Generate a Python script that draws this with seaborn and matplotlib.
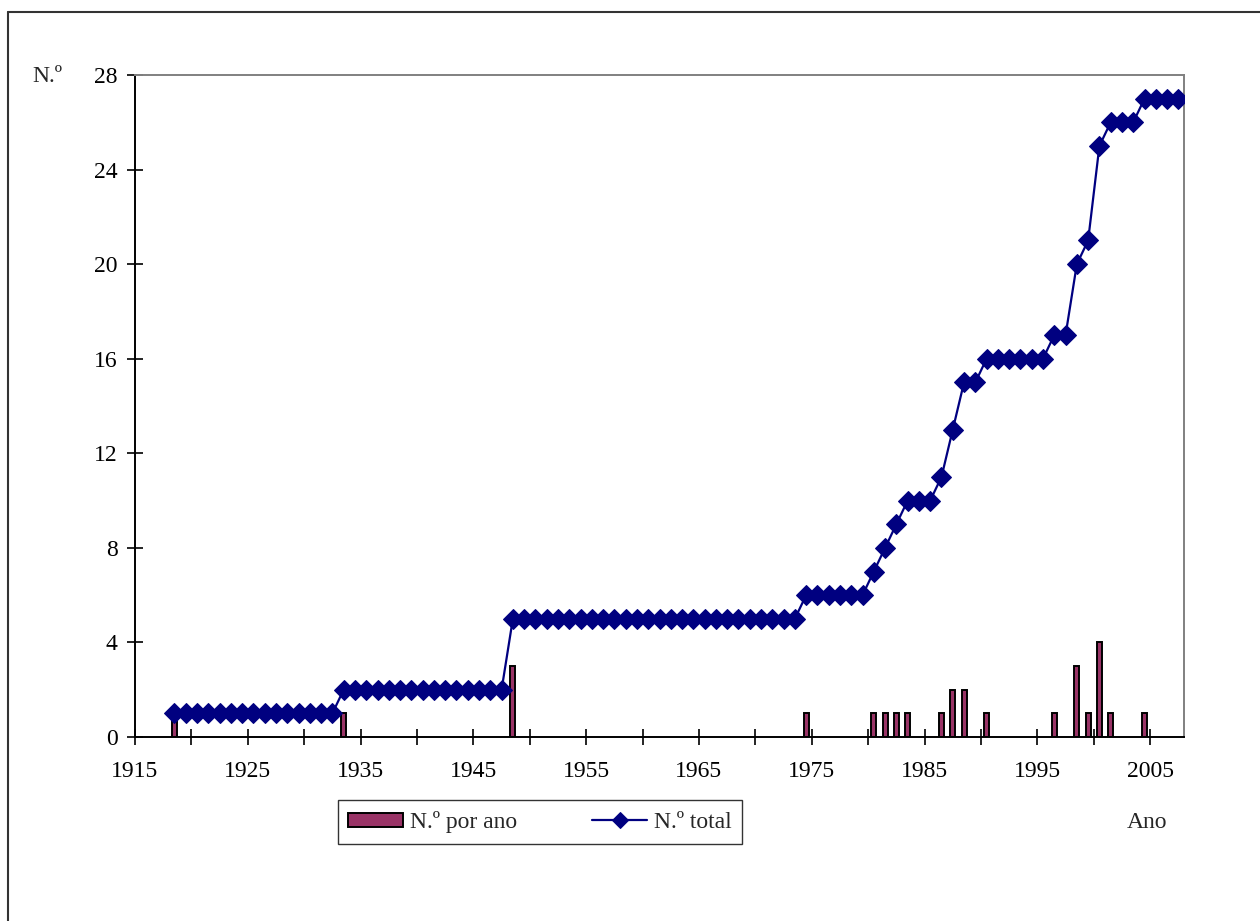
import matplotlib
matplotlib.use("Agg")
import matplotlib.pyplot as plt
from matplotlib.lines import Line2D
import seaborn as sns
import pandas as pd

# ---------------------------------------------------------------- #
# Data
# ---------------------------------------------------------------- #
total_years = list(range(1918, 2008))
total_values = (
    [1] * 15            # 1918-1932
    + [2] * 15          # 1933-1947
    + [5] * 26          # 1948-1973
    + [6] * 6           # 1974-1979
    + [7, 8, 9]         # 1980-1982
    + [10] * 3          # 1983-1985
    + [11, 13]          # 1986-1987
    + [15] * 2          # 1988-1989
    + [16] * 6          # 1990-1995
    + [17] * 2          # 1996-1997
    + [20, 21, 25]      # 1998-2000
    + [26] * 3          # 2001-2003
    + [27] * 4          # 2004-2007
)

bar_years = [1918, 1933, 1948, 1974, 1980, 1981, 1982, 1983, 1986, 1987,
             1988, 1990, 1996, 1998, 1999, 2000, 2001, 2004]
bar_values = [1, 1, 3, 1, 1, 1, 1, 1, 1, 2,
              2, 1, 1, 3, 1, 4, 1, 1]

y_ticks = [0, 4, 8, 12, 16, 20, 24, 28]
x_label_years = list(range(1915, 2006, 10))

# category axis: each year sits in the middle of its slot
df_total = pd.DataFrame({"pos": [y + 0.5 for y in total_years], "n": total_values})
df_bars = pd.DataFrame({"pos": [y + 0.5 for y in bar_years], "n": bar_values})

# ---------------------------------------------------------------- #
# Plot
# ---------------------------------------------------------------- #
sns.set_style("white")
plt.rcParams["font.family"] = ["Liberation Serif", "DejaVu Serif"]

fig = plt.figure(figsize=(12.6, 9.21), dpi=100)
ax = fig.add_axes([135 / 1260, 1 - 737 / 921, (1184 - 135) / 1260, (737 - 75) / 921])

sns.barplot(data=df_bars, x="pos", y="n", native_scale=True, width=0.45,
            color="#993366", edgecolor="black", linewidth=1.4,
            saturation=1, label="N.º por ano", ax=ax, zorder=2)
sns.lineplot(data=df_total, x="pos", y="n", color="#000080", linewidth=1.6,
             marker="D", markersize=10.5, markeredgecolor="#000080",
             label="N.º total", ax=ax, zorder=3)

ax.set_xlim(1915, 2008)
ax.set_ylim(0, 28)
ax.set_yticks(y_ticks)
ax.set_xticks(range(1915, 2008, 5))
ax.set_xticklabels([str(y) if y in x_label_years else "" for y in range(1915, 2008, 5)])
ax.tick_params(axis="both", direction="inout", length=11, width=1.2,
               color="black", labelsize=17, labelcolor="black",
               bottom=True, left=True)
ax.tick_params(axis="y", pad=7)
ax.tick_params(axis="x", pad=12)
ax.set_xlabel("")
ax.set_ylabel("")

for side in ["left", "bottom"]:
    ax.spines[side].set_color("black")
    ax.spines[side].set_linewidth(1.4)
for side in ["top", "right"]:
    ax.spines[side].set_color("#808080")
    ax.spines[side].set_linewidth(1.4)
ax.grid(False)

handles, labels = ax.get_legend_handles_labels()
order = [labels.index("N.º por ano"), labels.index("N.º total")]
leg = ax.legend([handles[i] for i in order], [labels[i] for i in order],
                loc="center", bbox_to_anchor=(540 / 1260, 1 - 822 / 921),
                bbox_transform=fig.transFigure, ncol=2, fontsize=17,
                frameon=True, fancybox=False, edgecolor="black",
                handlelength=2.3, handleheight=0.55, columnspacing=3.2,
                handletextpad=0.3, borderpad=0.45, borderaxespad=0)
leg.get_frame().set_linewidth(1.0)
leg.legend_handles[1].set_markersize(8)

fig.text(47 / 1260, 1 - 77 / 921, "N.º", fontsize=17, ha="center", va="center")
fig.text(1147 / 1260, 1 - 823 / 921, "Ano", fontsize=17, ha="center", va="center")

# outer chart border (left + top visible)
fig.add_artist(Line2D([8 / 1260, 8 / 1260], [0, 1 - 12 / 921],
                      transform=fig.transFigure, color="#333333", lw=1.5))
fig.add_artist(Line2D([8 / 1260, 1], [1 - 12 / 921, 1 - 12 / 921],
                      transform=fig.transFigure, color="#333333", lw=1.5))

fig.savefig("out.png", dpi=100)
